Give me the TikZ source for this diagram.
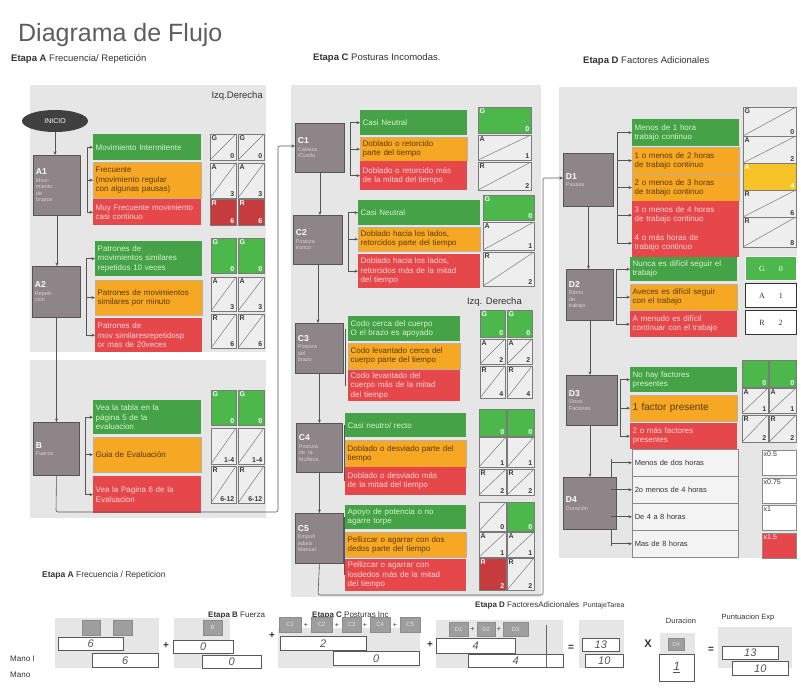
\documentclass[tikz,border=0pt]{standalone}
\usepackage{fontspec}
\setmainfont{Liberation Sans}
\newfontfamily\serifD{Liberation Serif}
\usetikzlibrary{shapes.geometric,arrows.meta,calc}
\definecolor{panel}{HTML}{E6E6E6}
\definecolor{sgray}{HTML}{8D8587}
\definecolor{sdark}{HTML}{555555}
\definecolor{steptxt}{HTML}{D9D0D2}
\definecolor{cgreen}{HTML}{45A247}
\definecolor{sgreen}{HTML}{4CB84C}
\definecolor{corange}{HTML}{F6A724}
\definecolor{cred}{HTML}{E5474B}
\definecolor{cdred}{HTML}{C63B3E}
\definecolor{cyellow}{HTML}{F5C228}
\definecolor{gtext}{HTML}{D6F2CF}
\definecolor{otext}{HTML}{5A3A08}
\definecolor{rtext}{HTML}{FBD5D5}
\definecolor{cellfill}{HTML}{EEEEEE}
\definecolor{cellline}{HTML}{7A7A7A}
\definecolor{linec}{HTML}{555555}
\definecolor{titlec}{HTML}{5E5E5E}
\definecolor{labc}{HTML}{333333}
\definecolor{lettc}{HTML}{3A3A3A}
\definecolor{tagc}{HTML}{9E9E9E}
\definecolor{handc}{HTML}{555555}
\definecolor{wfill}{HTML}{F3F3F3}
\definecolor{wline}{HTML}{8A8A8A}

\newcounter{cellno}
\newcommand\mybox[7]{%
  \pgfmathsetmacro\mbw{#5-#3}%
  \pgfmathsetmacro\mbh{#6-#4}%
  \pgfmathsetmacro\mbt{#5-#3-5}%
  \node[#1, anchor=north west, minimum width=\mbw pt, minimum height=\mbh pt, text width=\mbt pt] (#2) at (#3,#4) {#7};}
\newcommand\celld[6]{\stepcounter{cellno}%
  \filldraw[fill=cellfill, draw=cellline, line width=0.5pt] (#1,#2) rectangle (#3,#4);
  \draw[cellline, line width=0.5pt] (#1,#4) -- (#3,#2);
  \node[lett, anchor=north west] (L\thecellno) at (#1,#2) {#5};
  \node[lett, anchor=south east] (N\thecellno) at (#3,#4) {#6};}
\newcommand\cellf[7]{\stepcounter{cellno}%
  \filldraw[fill=#1, draw=cellline, line width=0.5pt] (#2,#3) rectangle (#4,#5);
  \node[lett, text=white, anchor=north west] (L\thecellno) at (#2,#3) {#6};
  \node[lett, text=white, anchor=south east] (N\thecellno) at (#4,#5) {#7};}
\newcommand\cellm[7]{\stepcounter{cellno}%
  \filldraw[fill=#1, draw=wline, line width=0.6pt] (#2,#3) rectangle (#4,#5);
  \node[lett, font=\fontsize{7}{8}\selectfont, text=#7, anchor=north west] (M\thecellno) at (#2,#3) {#6};}
\newcommand\stp[2]{{\fontsize{8.5}{10}\selectfont\bfseries #1\par}\vspace{1pt}{\fontsize{5.5}{6.5}\selectfont\color{steptxt}#2\par}}

\tikzset{
  conn/.style={draw=linec, line width=0.6pt},
  arr/.style={conn, -{Stealth[length=3.5pt,width=3pt]}},
  stepbox/.style={fill=sgray, draw=sdark, line width=0.9pt, text=white, align=left, inner xsep=2.5pt, inner ysep=2pt},
  cbx/.style={align=left, inner xsep=2.5pt, inner ysep=1pt, font=\fontsize{8}{9.3}\selectfont},
  gbx/.style={cbx, fill=cgreen, text=gtext},
  obx/.style={cbx, fill=corange, draw=otext!40, line width=0.3pt, text=otext},
  rbx/.style={cbx, fill=cred, text=rtext},
  wbx/.style={cbx, fill=wfill, draw=wline, line width=0.5pt, text=labc, font=\fontsize{7.5}{9}\selectfont},
  lett/.style={font=\fontsize{7}{8}\selectfont\bfseries, text=lettc, inner sep=1.5pt},
  dbox/.style={draw=black!80, line width=0.9pt, fill=white, align=center, inner xsep=2.5pt, font=\serifD\fontsize{8}{9}\selectfont, text=labc},
  stagel/.style={text=labc, inner sep=0pt, font=\fontsize{9.5}{11}\selectfont},
  tag/.style={fill=tagc, draw=black!45, line width=0.4pt, text=white!88!black, align=center, inner xsep=1pt, inner ysep=0pt, font=\fontsize{6}{7}\selectfont},
  hand/.style={fill=white, draw=black!65, line width=0.6pt, align=center, inner xsep=1pt, inner ysep=0pt, text=handc, font=\fontsize{11}{11}\selectfont\itshape},
  op/.style={text=labc, inner sep=0pt, font=\fontsize{10}{10}\selectfont\bfseries}
}

\begin{document}
\begin{tikzpicture}[x=1pt,y=-1pt]
\useasboundingbox (0,0) rectangle (801,698);
\fill[white] (0,0) rectangle (801,698);

% ---------- titles
\node[anchor=base west, text=titlec, inner sep=0pt, font=\fontsize{25}{28}\selectfont] (title) at (18,42) {Diagrama de Flujo};
\node[stagel, anchor=base west] (etA) at (11,62) {\textbf{Etapa A} Frecuencia/ Repetición};
\node[stagel, anchor=base west] (etC) at (313,61) {\textbf{Etapa C} Posturas Incomodas.};
\node[stagel, anchor=base west] (etD) at (583,64) {\textbf{Etapa D} Factores Adicionales};

% ---------- panels
\fill[panel] (30,85) rectangle (266,352);
\fill[panel] (30,360) rectangle (266,518);
\fill[panel] (291,85) rectangle (541,597);
\fill[panel] (559,87) rectangle (797,558);

\node[stagel, anchor=base east] (izq1) at (263,99) {Izq.Derecha};
\node[stagel, anchor=base east] (izq2) at (522,304) {Izq. Derecha};

% ---------- Etapa A
\node[ellipse, fill=black!75, text=white, minimum width=66pt, minimum height=22pt, inner sep=0pt, font=\fontsize{7}{8}\selectfont] (inicio) at (55,121) {INICIO};

\mybox{stepbox}{A1}{33}{155}{80}{215}{\stp{A1}{Movi-\\miento\\de\\brazos}}
\mybox{gbx}{A1g}{93}{134}{201}{160}{Movimiento Intermitente}
\mybox{obx}{A1o}{93}{162}{201}{198}{Frecuente\\(movimiento regular\\con algunas pausas)}
\mybox{rbx}{A1r}{93}{199}{201}{225}{Muy Frecuente movimiento\\casi continuo}
\celld{210}{134}{236}{160}{G}{0} \celld{238}{134}{264}{160}{G}{0}
\celld{210}{163}{236}{198}{A}{3} \celld{238}{163}{264}{198}{A}{3}
\cellf{cdred}{210}{199}{236}{225}{R}{6} \cellf{cdred}{238}{199}{264}{225}{R}{6}

\mybox{stepbox}{A2}{32}{266}{80}{317}{\stp{A2}{Repeti-\\ción}}
\mybox{gbx}{A2g}{95}{241}{202}{276}{Patrones de\\movimientos similares\\repetidos 10 veces}
\mybox{obx}{A2o}{95}{280}{202}{315}{Patrones de movimientos\\similares por minuto}
\mybox{rbx}{A2r}{95}{318}{202}{352}{Patrones de\\mov similaresrepetidosp\\or mas de 20veces}
\cellf{sgreen}{211}{238}{236}{273}{G}{0} \cellf{sgreen}{238}{238}{264}{273}{G}{0}
\celld{211}{277}{236}{311}{A}{3} \celld{238}{277}{264}{311}{A}{3}
\celld{211}{314}{236}{348}{R}{6} \celld{238}{314}{264}{348}{R}{6}

\mybox{stepbox}{B}{33}{422}{79}{475}{\stp{B}{Fuerza}}
\mybox{gbx}{Bg}{93}{400}{201}{434}{Vea la tabla en la\\página 5 de la\\evaluacion}
\mybox{obx}{Bo}{93}{437}{201}{472}{Guia de Evaluación}
\mybox{rbx}{Br}{93}{476}{201}{513}{Vea la Pagina 6 de la\\Evaluacion}
\cellf{sgreen}{211}{390}{236}{425}{G}{0} \cellf{sgreen}{238}{390}{264}{425}{G}{0}
\celld{211}{428}{236}{464}{}{1-4} \celld{238}{428}{264}{464}{}{1-4}
\celld{211}{466}{236}{503}{R}{6-12} \celld{238}{466}{264}{503}{R}{6-12}

% brackets A
\coordinate (A1b) at (87,185);
\coordinate (A2b) at (86,290);
\coordinate (Bb) at (85,448);
\draw[conn] (A1b |- A1g.west) -- (A1b |- A1r.west);
\foreach \n in {A1g,A1o,A1r} \draw[arr] (A1b |- \n.west) -- (\n.west);
\draw[conn] (A2b |- A2g.west) -- (A2b |- A2r.west);
\foreach \n in {A2g,A2o,A2r} \draw[arr] (A2b |- \n.west) -- (\n.west);
\draw[conn] (Bb |- Bg.west) -- (Bb |- Br.west);
\foreach \n in {Bg,Bo,Br} \draw[arr] (Bb |- \n.west) -- (\n.west);

\draw[arr] (inicio.south) -- (inicio.south |- A1.north);
\draw[arr] (A1.south) -- (A1.south |- A2.north);
\draw[arr] (A2.south) -- (A2.south |- B.north);

% ---------- Etapa C
\mybox{stepbox}{C1}{295}{123}{344}{172}{\stp{C1}{Cabeza\\/Cuello}}
\mybox{gbx}{C1g}{360}{110}{467}{135}{Casi Neutral}
\mybox{obx}{C1o}{360}{137}{467}{161}{Doblado o retorcido\\parte del tiempo}
\mybox{rbx}{C1r}{360}{161}{467}{190}{Doblado o retorcido más\\de la mitad del tiempo}
\cellf{sgreen}{478}{107}{531}{133}{G}{0}
\celld{478}{135}{531}{160}{A}{1}
\celld{478}{162}{531}{190}{R}{2}

\mybox{stepbox}{C2}{293}{215}{342}{264}{\stp{C2}{Postura\\tronco}}
\mybox{gbx}{C2g}{358}{200}{480}{225}{Casi Neutral}
\mybox{obx}{C2o}{358}{227}{480}{251}{Doblado hacia los lados,\\retorcidos parte del tiempo}
\mybox{rbx}{C2r}{358}{254}{480}{288}{Doblado hacia los lados,\\retorcidos más de la mitad\\del tiempo}
\cellf{sgreen}{483}{195}{534}{220}{G}{0}
\celld{483}{222}{534}{250}{A}{1}
\celld{483}{252}{534}{286}{R}{2}

\mybox{stepbox}{C3}{295}{323}{343}{373}{\stp{C3}{Postura\\del\\brazo}}
\mybox{gbx}{C3g}{348}{316}{460}{341}{Codo cerca del cuerpo\\O el brazo es apoyado}
\mybox{obx}{C3o}{348}{343}{460}{369}{Codo levantado cerca del\\cuerpo parte del tiempo}
\mybox{rbx}{C3r}{348}{370}{460}{401}{Codo levantado del\\cuerpo más de la mitad\\del tiempo}
\cellf{sgreen}{480}{310}{505}{337}{G}{0} \cellf{sgreen}{507}{310}{532}{337}{G}{0}
\celld{480}{339}{505}{364}{A}{2} \celld{507}{339}{532}{364}{A}{2}
\celld{480}{366}{505}{398}{R}{4} \celld{507}{366}{532}{398}{R}{4}

\mybox{stepbox}{C4}{296}{423}{342}{472}{\stp{C4}{Postura\\de la\\Muñeca}}
\mybox{gbx}{C4g}{345}{413}{466}{437}{Casi neutro/ recto}
\mybox{obx}{C4o}{345}{440}{466}{467}{Doblado o desviado parte del\\tiempo}
\mybox{rbx}{C4r}{345}{467}{466}{495}{Doblado o desviado más\\de la mitad del tiempo}
\cellf{sgreen}{479}{409}{506}{436}{}{0} \cellf{sgreen}{507}{409}{534}{436}{}{0}
\celld{479}{437}{506}{467}{}{1} \celld{507}{437}{534}{467}{}{1}
\celld{479}{469}{506}{495}{R}{2} \celld{507}{469}{534}{495}{R}{2}

\mybox{stepbox}{C5}{295}{513}{343}{563}{\stp{C5}{Empuñ\\adura\\Manual}}
\mybox{gbx}{C5g}{345}{505}{466}{529}{Apoyo de potencia o no\\agarre torpe}
\mybox{obx}{C5o}{345}{532}{466}{557}{Pellizcar o agarrar con dos\\dedos parte del tiempo}
\mybox{rbx}{C5r}{345}{559}{466}{591}{Pellizcar o agarrar con\\losdedos más de la mitad\\del tiempo}
\celld{479}{502}{506}{531}{}{0} \cellf{sgreen}{507}{502}{534}{531}{}{0}
\celld{479}{532}{506}{557}{A}{1} \celld{507}{532}{534}{557}{A}{1}
\cellf{cdred}{479}{558}{506}{590}{R}{2} \celld{507}{558}{534}{590}{R}{2}

% brackets C
\coordinate (C1b) at (350,150);
\coordinate (C2b) at (348,240);
\draw[conn] (C1b |- C1g.west) -- (C1b |- C1r.west);
\foreach \n in {C1g,C1o,C1r} \draw[arr] (C1b |- \n.west) -- (\n.west);
\draw[conn] (C2b |- C2g.west) -- (C2b |- C2r.west);
\foreach \n in {C2g,C2o,C2r} \draw[arr] (C2b |- \n.west) -- (\n.west);
\coordinate (C3b) at (345,350);
\coordinate (C4b) at (344,450);
\coordinate (C5b) at (344,540);
\draw[conn] (C3b |- C3g.west) -- (C3b |- C3r.west);
\draw[conn] (C4b |- C4g.west) -- (C4b |- C4r.west);
\draw[conn] (C5b |- C5g.west) -- (C5b |- C5r.west);

\draw[arr] (C1.south) -- (C1.south |- C2.north);
\draw[arr] (C2.south) -- (C2.south |- C3.north);
\draw[arr] (C3.south) -- (C3.south |- C4.north);
\draw[arr] (C4.south) -- (C4.south |- C5.north);

% B -> C1
\coordinate (k1) at (56,512);
\coordinate (k2) at (278,512);
\coordinate (k3) at (278,146);
\draw[arr, rounded corners=2pt] (B.south) -- (k1) -- (k2) -- (k3) -- (C1.west |- k3);

% ---------- Etapa D
\mybox{stepbox}{D1}{563}{153}{613}{206}{\stp{D1}{Pausas}}
\mybox{gbx}{D1g}{632}{119}{739}{146}{Menos de 1 hora\\trabajo continuo}
\mybox{obx}{D1o}{632}{147}{739}{174}{1 o menos de 2 horas\\de trabajo continuo}
\mybox{obx}{D1p}{632}{174}{739}{201}{2 o menos de 3 horas\\de trabajo continuo}
\mybox{rbx}{D1r}{632}{201}{739}{229}{3 o menos de 4 horas\\de trabajo continuo}
\mybox{rbx}{D1s}{632}{229}{739}{257}{4 o más horas de\\trabajo continuo}
\celld{743}{107}{796}{136}{G}{0}
\celld{743}{136}{796}{163}{A}{2}
\cellf{cyellow}{743}{163}{796}{190}{A}{4}
\celld{743}{190}{796}{217}{R}{6}
\celld{743}{217}{796}{247}{R}{8}

\mybox{stepbox}{D2}{566}{269}{613}{320}{\stp{D2}{Ritmo\\de\\trabajo}}
\mybox{gbx}{D2g}{630}{257}{737}{281}{Nunca es difícil seguir el\\trabajo}
\mybox{obx}{D2o}{630}{284}{737}{310}{Aveces es difícil seguir\\con el trabajo}
\mybox{rbx}{D2r}{630}{311}{737}{337}{A menudo es difícil\\continuar con el trabajo}
\mybox{dbox, fill=sgreen, text=white, draw=white}{D2sg}{745}{256}{796}{280}{G\hspace{14pt}0}
\mybox{dbox}{D2sa}{745}{283}{796}{307}{A\hspace{14pt}1}
\mybox{dbox}{D2sr}{745}{310}{796}{334}{R\hspace{14pt}2}

\mybox{stepbox}{D3}{566}{375}{617}{425}{\stp{D3}{Otros\\Factores}}
\mybox{gbx}{D3g}{630}{367}{737}{392}{No hay factores\\presentes}
\mybox{obx, font=\fontsize{10}{11}\selectfont}{D3o}{630}{395}{737}{421}{1 factor presente}
\mybox{rbx}{D3r}{630}{423}{737}{449}{2 o más factores\\presentes}
\cellf{sgreen}{742}{360}{768}{387}{}{0} \cellf{sgreen}{769}{360}{796}{387}{}{0}
\celld{742}{388}{768}{413}{A}{1} \celld{769}{388}{796}{413}{A}{1}
\celld{742}{415}{768}{442}{R}{2} \celld{769}{415}{796}{442}{R}{2}

\coordinate (D4b) at (611,500);
\draw[conn] (D4b |- 0,459) -- (D4b |- 0,546);
\mybox{stepbox}{D4}{563}{477}{616}{529}{\stp{D4}{Duración}}
\mybox{wbx}{D4a}{632}{449}{738}{476}{Menos de dos horas}
\mybox{wbx}{D4b2}{632}{476}{738}{503}{2o menos de 4 horas}
\mybox{wbx}{D4c}{632}{503}{738}{530}{De 4 a 8 horas}
\mybox{wbx}{D4d}{632}{530}{738}{557}{Mas de 8 horas}
\foreach \n in {D4a,D4b2,D4c,D4d} \draw[arr] (D4b |- \n.west) -- (\n.west);
\cellm{white}{762}{450}{796}{475}{x0.5}{labc}
\cellm{white}{762}{478}{796}{503}{x0.75}{labc}
\cellm{white}{762}{505}{796}{530}{x1}{labc}
\cellm{cred}{762}{533}{796}{558}{x1.5}{white}

% brackets D
\coordinate (D1b) at (617,180);
\coordinate (D2b) at (616,295);
\coordinate (D3b) at (620,400);
\draw[conn] (D1b |- D1g.west) -- (D1b |- D1s.west);
\foreach \n in {D1g,D1o,D1p,D1r,D1s} \draw[arr] (D1b |- \n.west) -- (\n.west);
\draw[conn] (D2b |- D2g.west) -- (D2b |- D2r.west);
\foreach \n in {D2g,D2o,D2r} \draw[arr] (D2b |- \n.west) -- (\n.west);
\draw[conn] (D3b |- D3g.west) -- (D3b |- D3r.west);
\foreach \n in {D3g,D3o,D3r} \draw[arr] (D3b |- \n.west) -- (\n.west);

\draw[arr] (D1.south) -- (D1.south |- D2.north);
\draw[arr] (D2.south) -- (D2.south |- D3.north);
\draw[arr] (D3.south -| D4.north) -- (D4.north);

% C5 -> D1
\coordinate (m1) at (318,595);
\coordinate (m2) at (543,595);
\coordinate (m3) at (543,178);
\draw[arr, rounded corners=2pt] (C5.south) -- (m1) -- (m2) -- (m3) -- (D1.west |- m3);

% ---------- bottom summary
\node[stagel, anchor=base west, font=\fontsize{8.5}{10}\selectfont] (sA) at (42,577) {\textbf{Etapa A} Frecuencia / Repeticion};
\node[stagel, anchor=base west, font=\fontsize{8}{9}\selectfont] (mano1) at (10,661) {Mano I};
\node[stagel, anchor=base west, font=\fontsize{8}{9}\selectfont] (mano2) at (10,677) {Mano};

\fill[panel] (55,618) rectangle (159,668);
\mybox{tag}{tA1}{82}{620}{100}{635}{}
\mybox{tag}{tA2}{113}{620}{132}{635}{}
\mybox{hand}{hA1}{58}{637}{123}{650}{6}
\mybox{hand}{hA2}{92}{653}{158}{667}{6}
\node[op] (p1) at (166,646) {+};

\node[stagel, anchor=base west, font=\fontsize{8}{9}\selectfont] (sB) at (208,617) {\textbf{Etapa B} Fuerza};
\fill[panel] (174,618) rectangle (230,668);
\mybox{tag}{tB}{203}{620}{222}{635}{B}
\mybox{hand}{hB1}{173}{640}{233}{653}{0}
\mybox{hand}{hB2}{202}{655}{261}{668}{0}
\node[op] (p2) at (272,636) {+};

\node[stagel, anchor=base west, font=\fontsize{8}{9}\selectfont] (sC) at (312,617) {\textbf{Etapa C} Posturas Inc};
\fill[panel] (278,628) rectangle (420,668);
\mybox{tag}{tC1}{279}{617}{301}{632}{C1}
\mybox{tag}{tC2}{311}{617}{332}{632}{C2}
\mybox{tag}{tC3}{342}{617}{361}{632}{C3}
\mybox{tag}{tC4}{370}{617}{390}{632}{C4}
\mybox{tag}{tC5}{400}{617}{420}{632}{C5}
\node[op, font=\fontsize{7}{7}\selectfont] (pc1) at (306,625) {+};
\node[op, font=\fontsize{7}{7}\selectfont] (pc2) at (337,625) {+};
\node[op, font=\fontsize{7}{7}\selectfont] (pc3) at (365,625) {+};
\node[op, font=\fontsize{7}{7}\selectfont] (pc4) at (395,625) {+};
\mybox{hand}{hC1}{280}{636}{366}{650}{2}
\mybox{hand}{hC2}{333}{651}{419}{665}{0}
\node[op] (p3) at (430,645) {+};

\node[stagel, anchor=base west, font=\fontsize{8}{9}\selectfont] (sD) at (475,607) {\textbf{Etapa D} FactoresAdicionales};
\node[stagel, anchor=base west, font=\fontsize{7}{8}\selectfont] (sP) at (583,607) {PuntajeTarea};
\fill[panel] (436,620) rectangle (563,668);
\mybox{tag}{tD1}{449}{622}{468}{636}{D1}
\mybox{tag}{tD2}{477}{622}{495}{636}{D2}
\mybox{tag}{tD3}{503}{622}{528}{636}{D3}
\node[op, font=\fontsize{7}{7}\selectfont] (pd1) at (472.5,629) {+};
\node[op, font=\fontsize{7}{7}\selectfont] (pd2) at (499,629) {+};
\mybox{hand}{hD1}{436}{638}{515}{653}{4}
\mybox{hand}{hD2}{468}{654}{563}{667}{4}
\coordinate (vl1) at (546,625);
\coordinate (vl2) at (546,667);
\draw[black!60, line width=0.6pt] (vl1) -- (vl2);
\node[op] (e1) at (571,648) {=};

\fill[panel] (579,620) rectangle (624,668);
\mybox{hand}{hP1}{582}{638}{619}{651}{13}
\mybox{hand}{hP2}{585}{654}{623}{667}{10}

\node[op, font=\fontsize{11}{11}\selectfont\bfseries] (xx) at (648,644) {X};
\node[stagel, font=\fontsize{7.5}{9}\selectfont] (sDur) at (681,621) {Duracion};
\fill[panel] (660,633) rectangle (695,668);
\mybox{tag}{tD4}{668}{638}{684}{650}{D4}
\mybox{hand, font=\fontsize{12}{12}\selectfont\itshape}{hDur}{659}{654}{694}{681}{\underline{1}}
\node[op] (e2) at (711,650) {=};

\node[stagel, font=\fontsize{7.5}{9}\selectfont] (sPE) at (748,618) {Puntuacion Exp};
\fill[panel] (718,627) rectangle (792,668);
\mybox{hand}{hE1}{722}{646}{778}{659}{13}
\mybox{hand}{hE2}{732}{661}{788}{675}{10}
\end{tikzpicture}
\end{document}
